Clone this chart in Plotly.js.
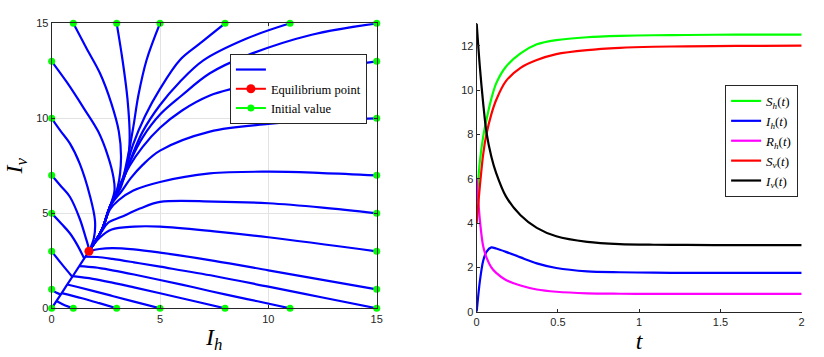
<!DOCTYPE html>
<html>
<head>
<meta charset="utf-8">
<script src="https://cdn.plot.ly/plotly-3.0.1.min.js"></script>
<style>
  html, body { margin: 0; padding: 0; background: #fff; }
  #chart { width: 824px; height: 357px; }
</style>
</head>
<body>
<div id="chart"></div>
<script>
// phase plane (I_h, I_v)
const eqIh = [1.72]
const eqIv = [3.0]

const initIh = [0, 0, 0, 0, 0, 0, 0, 1, 3, 5, 8, 11, 15, 15, 15, 15, 15, 15, 15, 15, 1, 3, 5, 8, 11]
const initIv = [0, 1, 3, 5, 7, 10, 13, 15, 15, 15, 15, 15, 15, 13, 10, 7, 5, 3, 1, 0, 0, 0, 0, 0, 0]

// one trajectory per initial value
const trajIh = [
  [0, 0.5, 1.0, 1.4, 1.72],
  [0, 0.2, 0.42],
  [0, 0.45, 0.95],
  [0, 0.45, 0.84, 1.2, 1.5],
  [0, 0.45, 0.84, 1.3, 1.55, 1.68, 1.72],
  [0, 0.4, 0.84, 1.3, 1.77, 2.0, 1.95, 1.72],
  [0, 0.7, 1.5, 2.15, 2.6, 2.85, 2.9, 2.69, 2.31, 1.72],
  [1, 1.6, 2.23, 2.75, 3.1, 3.2, 3.05, 2.69, 2.31, 1.72],
  [3, 3.27, 3.5, 3.6, 3.5, 3.2, 2.69, 2.31, 1.72],
  [5, 4.38, 4.0, 3.77, 3.5, 3.2, 2.69, 2.31, 1.72],
  [8, 6.8, 5.92, 5.0, 4.3, 3.75, 3.3, 2.69, 2.31, 1.72],
  [11, 9, 7.0, 5.9, 5.0, 4.2, 3.7, 3.3, 2.69, 2.31, 1.72],
  [15, 12, 9, 7.3, 6.0, 5.0, 4.2, 3.65, 3.3, 2.69, 2.31, 1.72],
  [15, 12, 10, 8.5, 7.3, 6.0, 5.0, 4.2, 3.6, 3.25, 2.69, 2.31, 1.72],
  [15, 12.5, 10, 7.3, 5.0, 4.2, 3.65, 3.25, 2.69, 2.31, 1.72],
  [15, 12.5, 10, 7.3, 5.0, 3.77, 3.1, 2.69, 2.31, 1.72],
  [15, 12.5, 10, 7.5, 5.0, 4.07, 3.2, 2.6, 2.31, 1.72],
  [15, 10, 7.5, 5.0, 3.8, 2.77, 2.2, 1.72],
  [15, 12.5, 10, 7.5, 5.0, 3.8, 2.8, 2.2, 1.72],
  [15, 12.5, 10, 7.5, 5.0, 3.8, 2.8, 2.1, 1.56],
  [11, 9.5, 8, 6.5, 5.0, 3.8, 2.8, 2.0, 1.27],
  [8, 6.5, 5.0, 3.8, 2.8, 1.9, 0.97],
  [5, 3.8, 2.8, 1.9, 1.2, 0.72],
  [3, 2.2, 1.4, 0.46],
  [1, 0.6, 0.22]
]
const trajIv = [
  [0, 0.87, 1.74, 2.44, 3.0],
  [1, 0.83, 0.73],
  [3, 2.35, 1.66],
  [5, 4.45, 3.95, 3.3, 2.62],
  [7, 6.4, 5.87, 4.7, 3.8, 3.3, 3.0],
  [10, 9.35, 8.68, 7.6, 5.9, 4.6, 3.7, 3.0],
  [13, 11.9, 10.5, 9.3, 8.0, 6.9, 6.2, 5.35, 4.12, 3.0],
  [15, 13.7, 12.37, 10.8, 9.3, 7.9, 6.4, 5.35, 4.12, 3.0],
  [15, 13.07, 11.0, 9.0, 7.6, 6.4, 5.35, 4.12, 3.0],
  [15, 13.07, 11.2, 9.56, 7.9, 6.5, 5.35, 4.12, 3.0],
  [15, 13.9, 13.07, 11.55, 10.1, 8.6, 6.9, 5.35, 4.12, 3.0],
  [15, 14.2, 13.05, 11.9, 10.7, 9.3, 8.0, 6.8, 5.35, 4.12, 3.0],
  [15, 14.4, 13.3, 12.37, 11.2, 10.2, 9.0, 7.8, 6.8, 5.35, 4.12, 3.0],
  [13, 12.5, 12.0, 11.6, 11.2, 10.4, 9.5, 8.5, 7.5, 6.7, 5.35, 4.12, 3.0],
  [10, 9.9, 9.7, 9.3, 8.3, 7.55, 6.85, 6.2, 5.35, 4.12, 3.0],
  [7, 7.12, 7.19, 7.1, 6.65, 6.2, 5.7, 5.2, 4.12, 3.0],
  [5, 5.3, 5.53, 5.62, 5.6, 5.25, 4.8, 4.5, 4.05, 3.0],
  [3, 3.74, 4.05, 4.3, 4.3, 4.15, 3.7, 3.0],
  [1, 1.5, 2.0, 2.5, 2.93, 3.1, 3.17, 3.12, 3.0],
  [0, 0.57, 1.14, 1.7, 2.19, 2.42, 2.6, 2.7, 2.72],
  [0, 0.37, 0.73, 1.12, 1.49, 1.78, 2.0, 2.15, 2.22],
  [0, 0.4, 0.79, 1.1, 1.35, 1.55, 1.69],
  [0, 0.35, 0.65, 0.92, 1.12, 1.25],
  [0, 0.27, 0.53, 0.8],
  [0, 0.16, 0.38]
]

// time series
const tVals = [0, 0.02, 0.04, 0.06, 0.09, 0.12, 0.18, 0.27, 0.37, 0.49, 0.68, 0.88, 1.09, 1.29, 1.6, 2.0]
const sH = [5.0, 6.8, 7.9, 8.65, 9.6, 10.3, 11.05, 11.65, 12.06, 12.25, 12.38, 12.44, 12.47, 12.48, 12.5, 12.5]
const iH = [0, 1.4, 2.3, 2.7, 2.9, 2.85, 2.7, 2.45, 2.18, 1.97, 1.82, 1.78, 1.76, 1.75, 1.75, 1.75]
const rH = [6.0, 4.1, 2.95, 2.45, 2.0, 1.75, 1.43, 1.18, 1.0, 0.9, 0.83, 0.81, 0.8, 0.8, 0.8, 0.8]
const sV = [4.0, 5.7, 7.1, 8.0, 8.9, 9.55, 10.4, 11.0, 11.35, 11.62, 11.8, 11.9, 11.95, 11.97, 11.99, 12.0]
const iV = [13.0, 11.0, 9.4, 8.1, 7.0, 6.25, 5.2, 4.35, 3.78, 3.4, 3.15, 3.05, 3.02, 3.01, 3.0, 3.0]

const serif = "'Liberation Serif', 'DejaVu Serif', serif"
const sans = "'Liberation Sans', Arial, sans-serif"
const axisCol = "#262626"

const traces = []

trajIh.forEach((xs, i) => {
  traces.push({
    x: xs, y: trajIv[i], type: "scatter", mode: "lines",
    line: { color: "#0000ff", width: 2.2, shape: "spline", smoothing: 1 },
    name: " ", showlegend: i === 0, legendrank: 1, hoverinfo: "skip",
  })
})

// points separated by gaps so the legend still gets a line sample
const gx = [], gy = []
initIh.forEach((v, i) => { gx.push(v, null); gy.push(initIv[i], null) })
traces.push({
  x: gx, y: gy, type: "scatter", mode: "lines+markers", connectgaps: false,
  line: { color: "#00ff00", width: 2 },
  marker: { color: "#00ff00", size: 7 },
  name: "Initial value", legendrank: 3, cliponaxis: false,
})
traces.push({
  x: eqIh, y: eqIv, type: "scatter", mode: "lines+markers",
  line: { color: "#ff0000", width: 2 },
  marker: { color: "#ff0000", size: 9 },
  name: "Equilibrium point", legendrank: 2, cliponaxis: false,
})

const series = [
  [sH, "#00ff00", "<i>S</i><sub><i>h</i></sub>(<i>t</i>)"],
  [iH, "#0000ff", "<i>I</i><sub><i>h</i></sub>(<i>t</i>)"],
  [rH, "#ff00ff", "<i>R</i><sub><i>h</i></sub>(<i>t</i>)"],
  [sV, "#ff0000", "<i>S</i><sub><i>v</i></sub>(<i>t</i>)"],
  [iV, "#000000", "<i>I</i><sub><i>v</i></sub>(<i>t</i>)"],
]
series.forEach(([ys, col, nm]) => {
  traces.push({
    x: tVals, y: ys, type: "scatter", mode: "lines", xaxis: "x2", yaxis: "y2",
    line: { color: col, width: 2.2, shape: "spline", smoothing: 0.8 },
    name: nm, legend: "legend2",
  })
})

const tickFont = { family: sans, size: 11, color: axisCol }

const layout = {
  width: 824, height: 357,
  margin: { l: 0, r: 0, t: 0, b: 0 },
  paper_bgcolor: "#fff", plot_bgcolor: "#fff",
  showlegend: true,
  xaxis: {
    domain: [0.0627, 0.4572], range: [0, 15], tickvals: [0, 5, 10, 15],
    showgrid: true, gridcolor: "#e3e3e3", zeroline: false,
    showline: true, mirror: "ticks", linecolor: axisCol, linewidth: 1,
    ticks: "inside", ticklen: 3, tickcolor: axisCol, tickfont: tickFont,
    title: { text: "<i>I</i><sub><i>h</i></sub>", font: { family: serif, size: 24, color: "#000" }, standoff: 4 },
    automargin: false,
  },
  yaxis: {
    domain: [0.1364, 0.9347], range: [0, 15], tickvals: [0, 5, 10, 15],
    showgrid: true, gridcolor: "#e3e3e3", zeroline: false,
    showline: true, mirror: "ticks", linecolor: axisCol, linewidth: 1,
    ticks: "inside", ticklen: 3, tickcolor: axisCol, tickfont: tickFont,
    title: { text: "<i>I</i><sub><i>v</i></sub>", font: { family: serif, size: 24, color: "#000" }, standoff: 6 },
    automargin: false,
  },
  xaxis2: {
    domain: [0.5785, 0.9729], range: [0, 2], dtick: 0.5, anchor: "y2",
    showgrid: false, zeroline: false, showline: true, linecolor: axisCol, linewidth: 1,
    ticks: "inside", ticklen: 3, tickcolor: axisCol, tickfont: tickFont,
    title: { text: "<i>t</i>", font: { family: serif, size: 24, color: "#000" }, standoff: 4 },
    automargin: false,
  },
  yaxis2: {
    domain: [0.1269, 0.9342], range: [0, 13], tickvals: [0, 2, 4, 6, 8, 10, 12], anchor: "x2",
    showgrid: false, zeroline: false, showline: true, linecolor: axisCol, linewidth: 1,
    ticks: "inside", ticklen: 3, tickcolor: axisCol, tickfont: tickFont,
    automargin: false,
  },
  legend: {
    x: 0.279, y: 0.849, xanchor: "left", yanchor: "top",
    bgcolor: "#fff", bordercolor: axisCol, borderwidth: 1,
    font: { family: serif, size: 12.5, color: "#000" },
    itemwidth: 30, tracegroupgap: 0,
  },
  legend2: {
    x: 0.88, y: 0.762, xanchor: "left", yanchor: "top",
    bgcolor: "#fff", bordercolor: axisCol, borderwidth: 1,
    font: { family: serif, size: 13, color: "#000" },
    itemwidth: 30, tracegroupgap: 0,
  },
}

Plotly.newPlot("chart", traces, layout, { displayModeBar: false, staticPlot: true })
</script>
</body>
</html>
